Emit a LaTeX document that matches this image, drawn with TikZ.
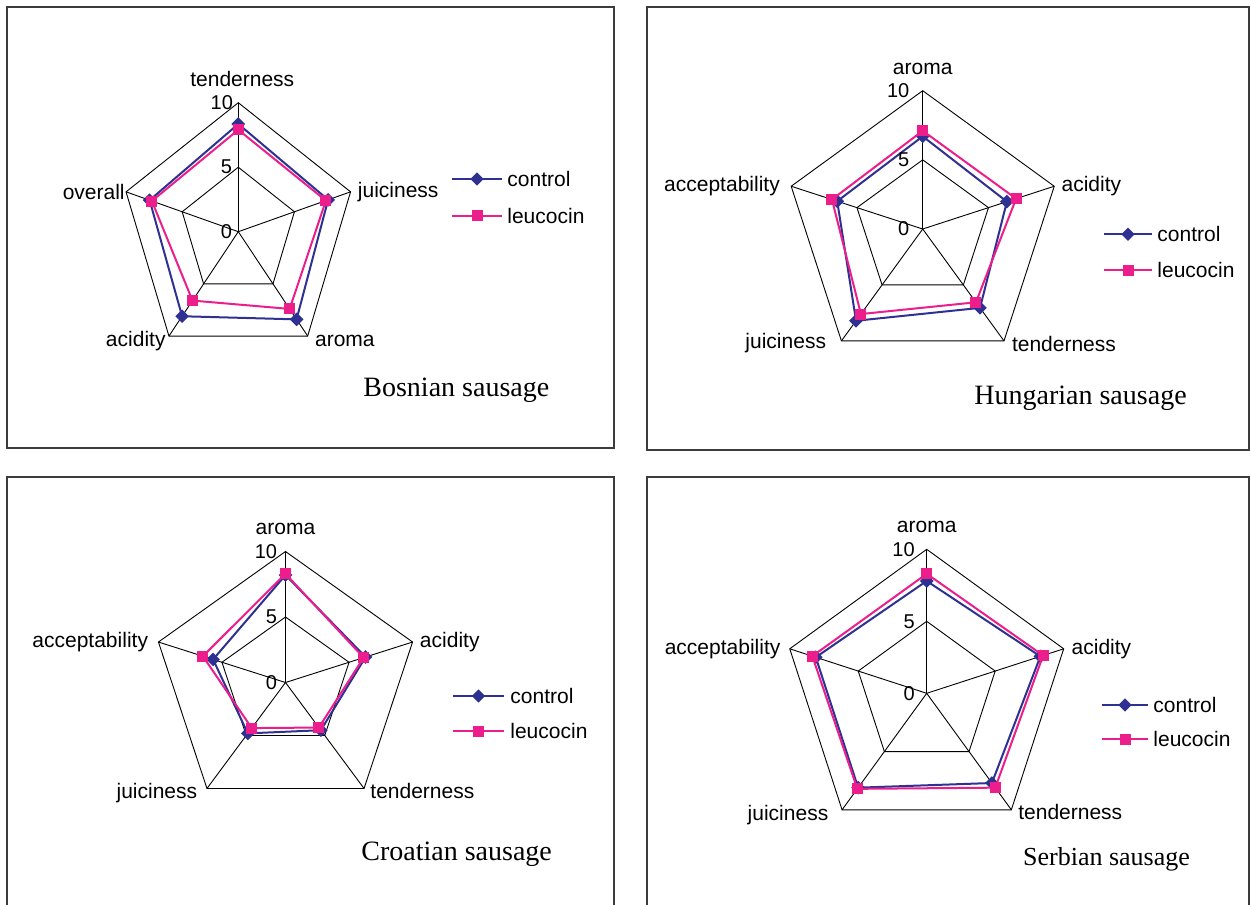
\documentclass[tikz,border=0pt]{standalone}
\usepackage{fontspec}
\setmainfont{Liberation Serif}
\setsansfont{Liberation Sans}
\usetikzlibrary{positioning}
\usetikzlibrary{shapes.geometric}
\definecolor{ctrlblue}{RGB}{46,49,146}
\definecolor{leucpink}{RGB}{236,30,140}
\definecolor{framegray}{RGB}{60,60,60}

\begin{document}
\begin{tikzpicture}[x=0.5pt,y=-0.5pt,
    panelbox/.style={draw=framegray,line width=0.7pt},
    web/.style={draw=black,line width=0.45pt},
    ctrl/.style={draw=ctrlblue,line width=1pt},
    leuc/.style={draw=leucpink,line width=1pt},
    ctrlmark/.style={diamond,fill=ctrlblue,inner sep=0pt,minimum size=7pt},
    leucmark/.style={rectangle,fill=leucpink,inner sep=0pt,minimum size=5.5pt},
    axlabel/.style={font=\sffamily\fontsize{10.5}{12}\selectfont,inner sep=0pt},
    ticklabel/.style={font=\sffamily\fontsize{10}{12}\selectfont,inner sep=0pt},
    legtext/.style={font=\sffamily\fontsize{10.5}{12}\selectfont,inner sep=0pt},
    sausagetitle/.style={font=\fontsize{14}{16}\selectfont,inner sep=0pt,anchor=base west}]
	\useasboundingbox (0,0) rectangle (1251,904);

	% Bosnian sausage
	\draw[panelbox] (7,7) rectangle (614,448);
	\begin{scope}[shift={(238.3,231.7)},xscale=.915]
		\coordinate (bctr) at (0,0);
		\foreach \k in {0,...,4} {
			\coordinate (bo\k) at ({-90+72*\k}:129);
			\coordinate (bh\k) at ({-90+72*\k}:64.5);
		}
		\foreach \v [count=\k from 0] in {8.35,8.0,8.4,8.1,7.9}
			\coordinate (bc\k) at ({-90+72*\k}:{12.9*\v});
		\foreach \v [count=\k from 0] in {7.9,7.8,7.4,6.6,7.7}
			\coordinate (bl\k) at ({-90+72*\k}:{12.9*\v});
	\end{scope}
	\draw[web] (bo0) -- (bo1) -- (bo2) -- (bo3) -- (bo4) -- cycle;
	\draw[web] (bh0) -- (bh1) -- (bh2) -- (bh3) -- (bh4) -- cycle;
	\foreach \k in {0,...,4} \draw[web] (bctr) -- (bo\k);
	\draw[ctrl] (bc0) -- (bc1) -- (bc2) -- (bc3) -- (bc4) -- cycle;
	\foreach \k in {0,...,4} \node[ctrlmark] (bcm\k) at (bc\k) {};
	\draw[leuc] (bl0) -- (bl1) -- (bl2) -- (bl3) -- (bl4) -- cycle;
	\foreach \k in {0,...,4} \node[leucmark] (blm\k) at (bl\k) {};
	\node[ticklabel,left=2.5pt of bo0] (b10) {10};
	\node[ticklabel,left=3pt of bh0] (b5) {5};
	\node[ticklabel,left=3pt of bctr] (bzero) {0};
	\node[axlabel,above=8pt of bo0,xshift=2pt] (btend) {tenderness};
	\node[axlabel,right=3.5pt of bo1] (bjuic) {juiciness};
	\node[axlabel,anchor=base west,xshift=3.5pt,yshift=-5pt] (barom) at (bo2) {aroma};
	\node[axlabel,anchor=base east,xshift=-1.5pt,yshift=-5pt] (bacid) at (bo3) {acidity};
	\node[axlabel,left=0.5pt of bo4] (bover) {overall};
	\coordinate (bla) at (452,179);
	\coordinate (blb) at (502,179);
	\coordinate (blc) at (452,215.7);
	\coordinate (bld) at (502,215.7);
	\draw[ctrl] (bla) -- node[ctrlmark] (bkey1) {} (blb);
	\draw[leuc] (blc) -- node[leucmark] (bkey2) {} (bld);
	\node[legtext,right=2.5pt of blb] (bktxt1) {control};
	\node[legtext,right=2.5pt of bld] (bktxt2) {leucocin};
	\node[sausagetitle] (btitle) at (363,396) {Bosnian sausage};

	% Hungarian sausage
	\draw[panelbox] (647,7) rectangle (1249,450);
	\begin{scope}[shift={(922.7,229)}]
		\coordinate (hctr) at (0,0);
		\foreach \k in {0,...,4} {
			\coordinate (ho\k) at ({-90+72*\k}:138.3);
			\coordinate (hh\k) at ({-90+72*\k}:69.15);
		}
		\foreach \v [count=\k from 0] in {6.7,6.4,7.05,8.2,6.5}
			\coordinate (hc\k) at ({-90+72*\k}:{13.83*\v});
		\foreach \v [count=\k from 0] in {7.1,7.1,6.55,7.6,6.9}
			\coordinate (hl\k) at ({-90+72*\k}:{13.83*\v});
	\end{scope}
	\draw[web] (ho0) -- (ho1) -- (ho2) -- (ho3) -- (ho4) -- cycle;
	\draw[web] (hh0) -- (hh1) -- (hh2) -- (hh3) -- (hh4) -- cycle;
	\foreach \k in {0,...,4} \draw[web] (hctr) -- (ho\k);
	\draw[ctrl] (hc0) -- (hc1) -- (hc2) -- (hc3) -- (hc4) -- cycle;
	\foreach \k in {0,...,4} \node[ctrlmark] (hcm\k) at (hc\k) {};
	\draw[leuc] (hl0) -- (hl1) -- (hl2) -- (hl3) -- (hl4) -- cycle;
	\foreach \k in {0,...,4} \node[leucmark] (hlm\k) at (hl\k) {};
	\node[ticklabel,left=6.5pt of ho0] (h10) {10};
	\node[ticklabel,left=6.5pt of hh0] (h5) {5};
	\node[ticklabel,left=6.5pt of hctr] (hzero) {0};
	\node[axlabel,above=8pt of ho0] (harom) {aroma};
	\node[axlabel,right=3.5pt of ho1] (hacid) {acidity};
	\node[axlabel,anchor=base west,xshift=3.8pt,yshift=-5.5pt] (htend) at (ho2) {tenderness};
	\node[axlabel,anchor=base east,xshift=-7.5pt,yshift=-4pt] (hjuic) at (ho3) {juiciness};
	\node[axlabel,left=5.5pt of ho4] (hacce) {acceptability};
	\coordinate (hla) at (1104,234.3);
	\coordinate (hlb) at (1152,234.3);
	\coordinate (hlc) at (1104,270);
	\coordinate (hld) at (1152,270);
	\draw[ctrl] (hla) -- node[ctrlmark] (hkey1) {} (hlb);
	\draw[leuc] (hlc) -- node[leucmark] (hkey2) {} (hld);
	\node[legtext,right=2.5pt of hlb] (hktxt1) {control};
	\node[legtext,right=2.5pt of hld] (hktxt2) {leucocin};
	\node[sausagetitle] (htitle) at (974,404) {Hungarian sausage};

	% Croatian sausage
	\draw[panelbox] (7,477) rectangle (614,906);
	\begin{scope}[shift={(285.5,682.5)},xscale=1.02]
		\coordinate (cctr) at (0,0);
		\foreach \k in {0,...,4} {
			\coordinate (co\k) at ({-90+72*\k}:131);
			\coordinate (ch\k) at ({-90+72*\k}:65.5);
		}
		\foreach \v [count=\k from 0] in {8.2,6.3,4.5,4.8,5.7}
			\coordinate (cc\k) at ({-90+72*\k}:{13.1*\v});
		\foreach \v [count=\k from 0] in {8.3,6.15,4.25,4.3,6.5}
			\coordinate (cl\k) at ({-90+72*\k}:{13.1*\v});
	\end{scope}
	\draw[web] (co0) -- (co1) -- (co2) -- (co3) -- (co4) -- cycle;
	\draw[web] (ch0) -- (ch1) -- (ch2) -- (ch3) -- (ch4) -- cycle;
	\foreach \k in {0,...,4} \draw[web] (cctr) -- (co\k);
	\draw[ctrl] (cc0) -- (cc1) -- (cc2) -- (cc3) -- (cc4) -- cycle;
	\foreach \k in {0,...,4} \node[ctrlmark] (ccm\k) at (cc\k) {};
	\draw[leuc] (cl0) -- (cl1) -- (cl2) -- (cl3) -- (cl4) -- cycle;
	\foreach \k in {0,...,4} \node[leucmark] (clm\k) at (cl\k) {};
	\node[ticklabel,left=4pt of co0] (c10) {10};
	\node[ticklabel,left=4pt of ch0] (c5) {5};
	\node[ticklabel,left=4pt of cctr] (czero) {0};
	\node[axlabel,above=8pt of co0] (carom) {aroma};
	\node[axlabel,right=3.5pt of co1] (cacid) {acidity};
	\node[axlabel,anchor=base west,xshift=3pt,yshift=-5pt] (ctend) at (co2) {tenderness};
	\node[axlabel,anchor=base east,xshift=-4.7pt,yshift=-4.8pt] (cjuic) at (co3) {juiciness};
	\node[axlabel,left=5pt of co4] (cacce) {acceptability};
	\coordinate (cla) at (453,696);
	\coordinate (clb) at (504,696);
	\coordinate (clc) at (453,731);
	\coordinate (cld) at (504,731);
	\draw[ctrl] (cla) -- node[ctrlmark] (ckey1) {} (clb);
	\draw[leuc] (clc) -- node[leucmark] (ckey2) {} (cld);
	\node[legtext,right=3pt of clb] (cktxt1) {control};
	\node[legtext,right=3pt of cld] (cktxt2) {leucocin};
	\node[sausagetitle] (ctitle) at (361,860) {Croatian sausage};

	% Serbian sausage
	\draw[panelbox] (647,477) rectangle (1249,906);
	\begin{scope}[shift={(926.7,693.3)}]
		\coordinate (sctr) at (0,0);
		\foreach \k in {0,...,4} {
			\coordinate (so\k) at ({-90+72*\k}:144);
			\coordinate (sh\k) at ({-90+72*\k}:72);
		}
		\foreach \v [count=\k from 0] in {7.8,8.3,7.7,8.1,8.1}
			\coordinate (sc\k) at ({-90+72*\k}:{14.4*\v});
		\foreach \v [count=\k from 0] in {8.3,8.5,8.1,8.2,8.35}
			\coordinate (sl\k) at ({-90+72*\k}:{14.4*\v});
	\end{scope}
	\draw[web] (so0) -- (so1) -- (so2) -- (so3) -- (so4) -- cycle;
	\draw[web] (sh0) -- (sh1) -- (sh2) -- (sh3) -- (sh4) -- cycle;
	\foreach \k in {0,...,4} \draw[web] (sctr) -- (so\k);
	\draw[ctrl] (sc0) -- (sc1) -- (sc2) -- (sc3) -- (sc4) -- cycle;
	\foreach \k in {0,...,4} \node[ctrlmark] (scm\k) at (sc\k) {};
	\draw[leuc] (sl0) -- (sl1) -- (sl2) -- (sl3) -- (sl4) -- cycle;
	\foreach \k in {0,...,4} \node[leucmark] (slm\k) at (sl\k) {};
	\node[ticklabel,left=5.8pt of so0] (s10) {10};
	\node[ticklabel,left=5.8pt of sh0] (s5) {5};
	\node[ticklabel,left=5.8pt of sctr] (szero) {0};
	\node[axlabel,above=8pt of so0] (sarom) {aroma};
	\node[axlabel,right=3.8pt of so1] (sacid) {acidity};
	\node[axlabel,anchor=base west,xshift=3.3pt,yshift=-4.9pt] (stend) at (so2) {tenderness};
	\node[axlabel,anchor=base east,xshift=-6.7pt,yshift=-5.3pt] (sjuic) at (so3) {juiciness};
	\node[axlabel,left=4.5pt of so4] (sacce) {acceptability};
	\coordinate (sla) at (1102,705);
	\coordinate (slb) at (1148,705);
	\coordinate (slc) at (1102,739);
	\coordinate (sld) at (1148,739);
	\draw[ctrl] (sla) -- node[ctrlmark] (skey1) {} (slb);
	\draw[leuc] (slc) -- node[leucmark] (skey2) {} (sld);
	\node[legtext,right=2.5pt of slb] (sktxt1) {control};
	\node[legtext,right=2.5pt of sld] (sktxt2) {leucocin};
	\node[sausagetitle,font=\fontsize{13}{15}\selectfont] (stitle) at (1022.7,865) {Serbian sausage};
\end{tikzpicture}
\end{document}
